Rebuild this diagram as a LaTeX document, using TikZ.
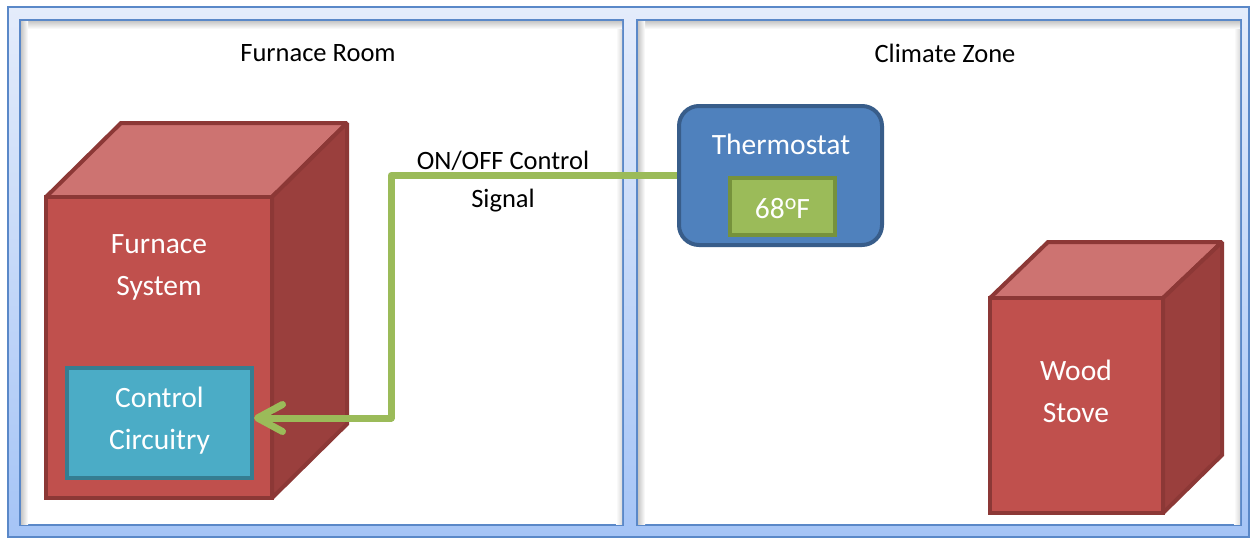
\documentclass[tikz,border=0pt]{standalone}
\usepackage{fontspec}
\setmainfont{Carlito}
\usetikzlibrary{arrows.meta,calc}
\definecolor{frameLine}{HTML}{5A88C8}
\definecolor{frameTop}{HTML}{E4ECFB}
\definecolor{frameBot}{HTML}{A5C4F6}
\definecolor{redFront}{HTML}{C0504D}
\definecolor{redTop}{HTML}{CD7371}
\definecolor{redSide}{HTML}{9A3F3D}
\definecolor{redEdge}{HTML}{8C3836}
\definecolor{tealFill}{HTML}{4BACC6}
\definecolor{tealEdge}{HTML}{357D91}
\definecolor{blueFill}{HTML}{4F81BD}
\definecolor{blueEdge}{HTML}{385D8A}
\definecolor{greenFill}{HTML}{9BBB59}
\definecolor{greenEdge}{HTML}{76923C}
\tikzset{
  panel/.style={fill=white, draw=frameLine, line width=2pt},
  cubeface/.style={draw=redEdge, line width=4pt, line join=miter, miter limit=1.5},
  boxtext/.style={text=white, align=center, font=\fontsize{29.5}{42}\selectfont, inner sep=0pt},
  labeltext/.style={text=black, align=center, font=\fontsize{26.5}{38}\selectfont, inner sep=0pt},
  conn/.style={draw=greenFill, line width=7pt, line join=round},
}
\begin{document}
\begin{tikzpicture}[x=1pt,y=-1pt]
\useasboundingbox (0,0) rectangle (1250,538);
% frame
\path[top color=frameTop, bottom color=frameBot, draw=frameLine, line width=2pt] (8,7) rectangle (1249,537);
\path[panel] (20,20) rectangle (623,525);
\path[panel] (637,20) rectangle (1241,525);
% inner shadows
\shade[top color=black!22, bottom color=white] (21,21) rectangle (622,29);
\shade[left color=black!22, right color=white] (21,21) rectangle (28,524);
\shade[left color=white, right color=black!14] (616,29) rectangle (622,524);
\shade[top color=black!22, bottom color=white] (638,21) rectangle (1240,29);
\shade[left color=black!22, right color=white] (638,21) rectangle (645,524);
\shade[left color=white, right color=black!14] (1234,29) rectangle (1240,524);
% labels
\node[labeltext] (room1) at (318,53) {Furnace Room};
\node[labeltext] (room2) at (945,53) {Climate Zone};
% furnace cube
\path[cubeface, fill=redTop] (46,197) -- (121,123) -- (347,123) -- (272,197) -- cycle;
\path[cubeface, fill=redSide] (272,197) -- (347,123) -- (347,424) -- (272,498) -- cycle;
\path[cubeface, fill=redFront] (46,197) rectangle (272,498);
\node[boxtext] (furnace) at (159,267) {Furnace\\System};
\node[draw=tealEdge, fill=tealFill, line width=4pt, minimum width=185pt, minimum height=110pt] (ctrl) at (159.5,423) {};
\node[boxtext] (ctrltext) at (159.5,421) {Control\\Circuitry};
% wood stove cube
\path[cubeface, fill=redTop] (990,298) -- (1048,242) -- (1222,242) -- (1163,298) -- cycle;
\path[cubeface, fill=redSide] (1163,298) -- (1222,242) -- (1222,455) -- (1163,513) -- cycle;
\path[cubeface, fill=redFront] (990,298) rectangle (1163,513);
\node[boxtext] (stove) at (1076,391) {Wood\\Stove};
% thermostat
\node[draw=blueEdge, fill=blueFill, line width=4pt, rounded corners=20pt, minimum width=203pt, minimum height=139pt] (thermo) at (780.5,175.5) {};
\node[boxtext] (thermotext) at (781,144) {Thermostat};
\node[draw=greenEdge, fill=greenFill, line width=4pt, minimum width=105pt, minimum height=57pt] (temp) at (782.5,206.5) {};
\node[boxtext] (temptext) at (782.5,209) {68\raisebox{0.32em}{\fontsize{22}{22}\selectfont o}F};
% connector
\coordinate (j2) at (391,418);
\draw[conn, -{Straight Barb[length=25pt,width=27pt,round]}] (thermo.west) -| (j2) -- (ctrl.east |- j2);
\node[labeltext] (sig) at (503,182) {ON/OFF Control\\Signal};
\end{tikzpicture}
\end{document}
